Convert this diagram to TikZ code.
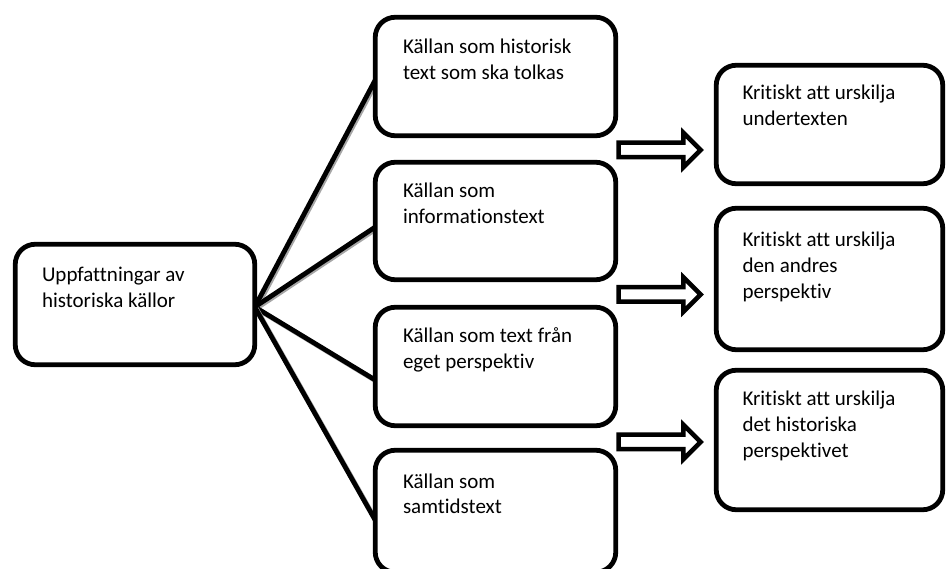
\documentclass[tikz,border=0pt]{standalone}
\usepackage{fontspec}
\setmainfont[Ligatures={NoCommon}]{Carlito}
\usetikzlibrary{calc,shapes.arrows,backgrounds}
\newcommand{\firststrut}{\rule{0pt}{18pt}}
\begin{document}
\begin{tikzpicture}[x=1pt,y=-1pt,
  box/.style={draw=black, line width=4.8pt, rounded corners=20pt, fill=white,
    inner sep=0pt, outer sep=0pt, anchor=north west},
  txt/.style={anchor=north west, inner sep=0pt, outer sep=0pt, align=left,
    font=\fontsize{21}{25.6}\selectfont},
  link/.style={line width=4.8pt, draw=black},
  linkshade/.style={line width=4.8pt, draw=black!35},
  blockarrow/.style={single arrow, draw=black, fill=white, line width=4.5pt,
    single arrow head extend=10pt, inner xsep=0pt, inner ysep=5pt,
    text height=0pt, text depth=0pt, minimum width=0pt, minimum height=82pt}
]
\useasboundingbox (0,0) rectangle (946,569);
\clip (0,0) rectangle (946,569);

% left box
\node[box, minimum width=239.5pt, minimum height=120.5pt] (L) at (15.25,244.25) {};
% middle column
\node[box, minimum width=240.5pt, minimum height=118.5pt] (m1) at (375.25,17.25) {};
\node[box, minimum width=240.5pt, minimum height=117.5pt] (m2) at (375.25,162.25) {};
\node[box, minimum width=240.5pt, minimum height=118.5pt] (m3) at (375.25,307.25) {};
\node[box, minimum width=240.5pt, minimum height=122pt] (m4) at (375.25,450.25) {};
% right column
\node[box, minimum width=226.5pt, minimum height=118.5pt] (r1) at (716.25,65.25) {};
\node[box, minimum width=226.5pt, minimum height=141.5pt] (r2) at (716.25,208.25) {};
\node[box, minimum width=226.5pt, minimum height=139.5pt] (r3) at (716.25,370.25) {};

% texts
\node[txt] (Lt) at ($(L.north west)+(26.75,19.75)$) {\firststrut Uppfattningar av\\historiska källor};
\node[txt] (m1t) at ($(m1.north west)+(27.75,18.75)$) {\firststrut Källan som historisk\\text som ska tolkas};
\node[txt] (m2t) at ($(m2.north west)+(27.75,17.75)$) {\firststrut Källan som\\informationstext};
\node[txt] (m3t) at ($(m3.north west)+(27.75,17.75)$) {\firststrut Källan som text från\\eget perspektiv};
\node[txt] (m4t) at ($(m4.north west)+(27.75,19.75)$) {\firststrut Källan som\\samtidstext};
\node[txt] (r1t) at ($(r1.north west)+(26.25,16.75)$) {\firststrut Kritiskt att urskilja\\undertexten};
\node[txt] (r2t) at ($(r2.north west)+(26.25,20.75)$) {\firststrut Kritiskt att urskilja\\den andres\\perspektiv};
\node[txt] (r3t) at ($(r3.north west)+(26.25,17.75)$) {\firststrut Kritiskt att urskilja\\det historiska\\perspektivet};

% block arrows
\node[blockarrow] (a1) at (656,150) {};
\node[blockarrow] (a2) at (656,294.5) {};
\node[blockarrow] (a3) at (656,442) {};

% connectors
\coordinate (hub) at ($(L.east)+(0,2.5)$);
\begin{scope}[on background layer]
  \foreach \tgt/\dy in {m1/3.5, m2/6, m3/13.5, m4/9} {
    \draw[linkshade] ([shift={(1.5,1.5)}]hub) -- ([shift={(1.5,1.5+\dy)}]\tgt.west);
    \draw[link] (hub) -- ([shift={(0,\dy)}]\tgt.west);
  }
\end{scope}
\end{tikzpicture}
\end{document}
